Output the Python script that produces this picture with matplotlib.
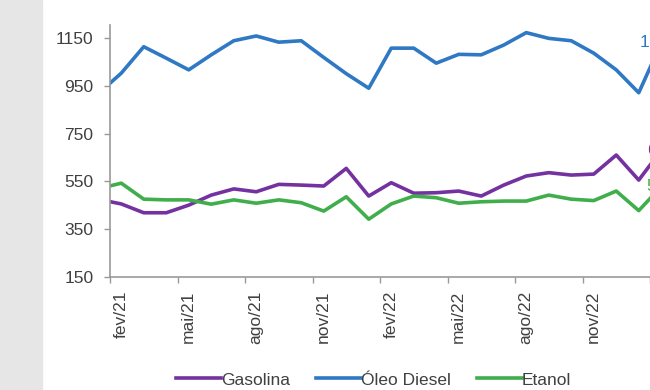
import numpy as np
import matplotlib
matplotlib.use('Agg')
import matplotlib.pyplot as plt
from matplotlib.patches import Rectangle

plt.rcParams['font.family'] = ['Liberation Sans', 'DejaVu Sans']

# monthly categories, jan/21 (clipped at the left) to fev/23 (cut by the right edge)
months = ['jan/21', 'fev/21', 'mar/21', 'abr/21', 'mai/21', 'jun/21', 'jul/21', 'ago/21',
          'set/21', 'out/21', 'nov/21', 'dez/21', 'jan/22', 'fev/22', 'mar/22', 'abr/22',
          'mai/22', 'jun/22', 'jul/22', 'ago/22', 'set/22', 'out/22', 'nov/22', 'dez/22',
          'jan/23', 'fev/23']
gasolina = [474, 455, 418, 418, 450, 492, 518, 506, 537, 534, 530, 604, 488,
            544, 500, 502, 509, 488, 534, 572, 586, 576, 580, 660, 555, 680]
diesel = [919, 1003, 1114, 1066, 1017, 1080, 1139, 1159, 1133, 1139, 1069, 1001, 940,
          1108, 1108, 1045, 1082, 1080, 1121, 1173, 1149, 1139, 1087, 1017, 921, 1130]
etanol = [519, 542, 475, 472, 472, 454, 472, 458, 472, 460, 425, 485, 391,
          455, 488, 481, 458, 464, 467, 467, 492, 475, 469, 509, 427, 528]
yticks = [150, 350, 550, 750, 950, 1150]

c_gas = '#7432a0'
c_die = '#2f78c4'
c_eta = '#3fae4b'
txt = '#404040'

x = np.arange(len(months)) - 1  # fev/21 -> 0

fig = plt.figure(figsize=(6.5, 3.9), dpi=100)
fig.patches.append(Rectangle((0, 0), 42 / 650, 1, transform=fig.transFigure,
                             color='#e6e6e6', zorder=0))
ax = fig.add_axes([110 / 650, 1 - 276.7 / 390, 585 / 650, 251.7 / 390])

ax.plot(x, gasolina, color=c_gas, lw=2.6, label='Gasolina', solid_joinstyle='round')
ax.plot(x, diesel, color=c_die, lw=2.6, label='Óleo Diesel', solid_joinstyle='round')
ax.plot(x, etanol, color=c_eta, lw=2.6, label='Etanol', solid_joinstyle='round')

# data labels of the last point
for vals, c in [(diesel, c_die), (gasolina, c_gas), (etanol, c_eta)]:
    s = '{:,}'.format(vals[-1]).replace(',', '.')
    ax.text(x[-1], vals[-1], s, ha='center', va='center', fontsize=12.5, color=c)

ax.set_xlim(-0.5, 25.5)
ax.set_ylim(150, 1205)
ax.set_yticks(yticks)
ax.set_yticklabels([str(v) for v in yticks])
lab_idx = list(range(1, len(months), 3))
ax.set_xticks(x[lab_idx])
ax.set_xticklabels([months[i] for i in lab_idx], rotation=90)
ax.set_xticks(np.arange(-0.5, 25.5, 3), minor=True)
ax.tick_params(axis='x', which='major', length=0, pad=10, labelsize=12.5, labelcolor=txt)
ax.tick_params(axis='x', which='minor', length=4, width=1, color='#999999', direction='out')
ax.tick_params(axis='y', length=4, width=1, color='#999999', pad=8, labelsize=12.5,
               labelcolor=txt)

for s in ['top', 'right']:
    ax.spines[s].set_visible(False)
for s in ['left', 'bottom']:
    ax.spines[s].set_color('#999999')
    ax.spines[s].set_linewidth(1.2)

fig.legend(loc='center', bbox_to_anchor=(373.5 / 650, 1 - 380 / 390), ncol=3,
           frameon=False, fontsize=12.5, handlelength=2.6, handletextpad=0.0,
           columnspacing=1.5, labelcolor=txt)

fig.savefig('out.png', dpi=100)
